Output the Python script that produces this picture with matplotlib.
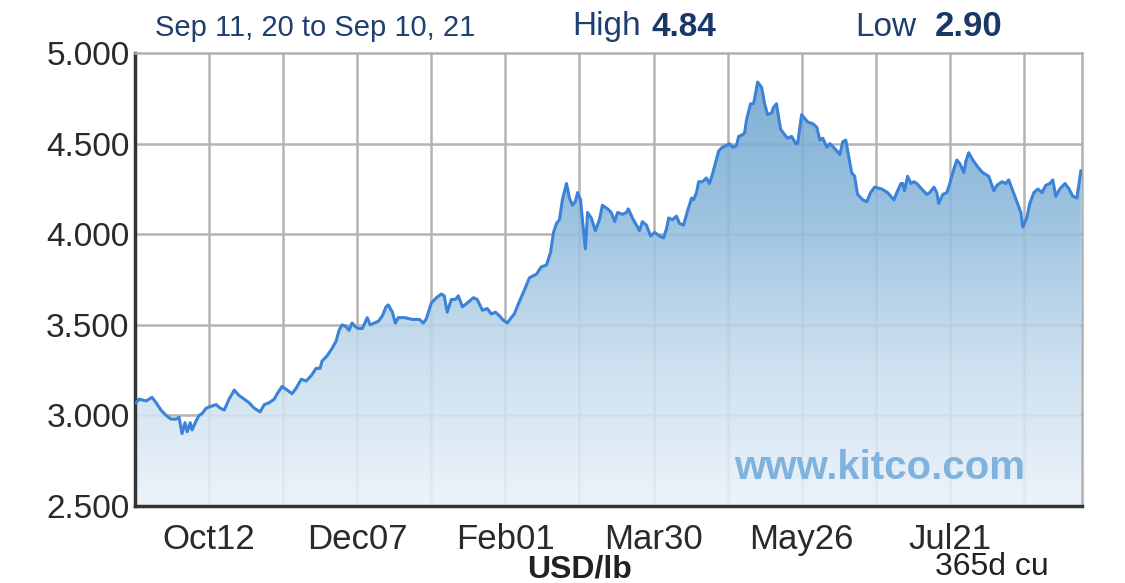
import numpy as np
import matplotlib
matplotlib.use("Agg")
import matplotlib.pyplot as plt
from matplotlib.colors import LinearSegmentedColormap

# Copper price, USD/lb, one year of trading days (x = trading day from Sep 11, 20)
day = [0.3, 1.1, 3.0, 4.6, 5.7, 7.0, 8.4, 9.7, 11.1, 11.9, 12.7, 13.5, 14.1, 14.9, 15.4,
       16.5, 17.3, 18.1, 19.2, 20.5, 21.9, 23.0, 24.1, 25.4, 26.8, 28.1, 29.5, 30.8, 32.2,
       33.8, 34.9, 36.2, 37.6, 38.4, 39.7, 41.1, 42.4, 43.5, 44.9, 46.2, 47.6, 48.9, 50.0,
       50.5, 51.9, 53.2, 54.3, 55.1, 55.9, 57.0, 57.8, 58.6, 59.5, 60.3, 61.4, 62.7, 63.5,
       64.6, 65.7, 66.8, 67.8, 68.4, 69.5, 70.3, 71.1, 72.7, 74.9, 76.8, 77.8, 78.6, 80.0,
       81.4, 82.7, 83.5, 84.3, 85.4, 86.5, 87.3, 88.4, 89.7, 91.4, 92.4, 93.8, 95.1, 96.2,
       97.3, 98.4, 99.2, 100.5, 101.6, 102.4, 103.8, 105.1, 106.5, 108.4, 109.7, 111.1,
       112.2, 113.0, 113.8, 114.6, 115.4, 116.5, 117.3, 118.1, 118.9, 119.5, 120.3, 120.8,
       121.6, 122.2, 123.2, 124.3, 125.4, 126.2, 127.6, 128.6, 129.5, 130.3, 131.6, 132.7,
       133.2, 134.3, 135.4, 136.2, 137.0, 138.1, 139.2, 140.3, 141.6, 142.7, 143.5, 144.1,
       145.1, 146.2, 147.0, 148.1, 149.2, 150.3, 150.8, 151.6, 152.2, 153.2, 154.3, 155.1,
       155.9, 156.8, 157.6, 158.6, 159.7, 160.5, 161.4, 162.4, 163.0, 164.1, 164.6, 165.1,
       166.2, 167.0, 167.6, 168.1, 169.2, 170.0, 170.8, 171.9, 172.4, 173.2, 174.3, 175.4,
       176.2, 177.3, 178.4, 178.9, 180.0, 180.8, 181.6, 183.0, 184.1, 184.9, 185.7, 186.8,
       187.6, 188.6, 189.5, 190.3, 191.1, 191.9, 192.7, 193.5, 194.3, 195.1, 196.5, 197.6,
       198.6, 199.7, 201.6, 203.2, 204.9, 205.7, 206.8, 207.3, 207.8, 208.6, 209.5, 210.3,
       211.1, 212.4, 213.8, 214.6, 215.7, 216.5, 217.0, 218.1, 219.2, 220.0, 221.1, 221.9,
       222.7, 223.8, 224.3, 225.1, 226.2, 227.6, 228.9, 230.5, 231.9, 232.7, 234.1, 235.1,
       235.9, 237.0, 238.1, 239.2, 239.7, 240.8, 241.6, 242.7, 243.8, 244.9, 245.9, 247.0,
       247.8, 248.6, 249.7, 251.1, 252.2, 253.2, 254.3, 254.9, 255.4]
price = [3.07, 3.09, 3.08, 3.10, 3.07, 3.03, 3.00, 2.98, 2.98, 2.99, 2.90, 2.96, 2.91, 2.96, 2.92,
         2.97, 3.00, 3.01, 3.04, 3.05, 3.06, 3.04, 3.03, 3.09, 3.14, 3.11, 3.09, 3.07, 3.04,
         3.02, 3.06, 3.07, 3.09, 3.12, 3.16, 3.14, 3.12, 3.15, 3.20, 3.19, 3.22, 3.26, 3.26,
         3.30, 3.33, 3.37, 3.41, 3.47, 3.50, 3.49, 3.47, 3.51, 3.49, 3.48, 3.48, 3.54, 3.50,
         3.51, 3.52, 3.55, 3.60, 3.61, 3.57, 3.51, 3.54, 3.54, 3.53, 3.53, 3.51, 3.53, 3.62,
         3.65, 3.67, 3.66, 3.57, 3.64, 3.64, 3.66, 3.60, 3.62, 3.65, 3.64, 3.58, 3.59, 3.56,
         3.57, 3.55, 3.53, 3.51, 3.54, 3.56, 3.63, 3.69, 3.76, 3.78, 3.82, 3.83,
         3.90, 4.01, 4.06, 4.08, 4.19, 4.28, 4.20, 4.16, 4.18, 4.23, 4.19, 4.08,
         3.92, 4.12, 4.09, 4.02, 4.08, 4.16, 4.14, 4.12, 4.07, 4.12, 4.11, 4.12,
         4.14, 4.09, 4.05, 4.02, 4.07, 4.05, 3.99, 4.01, 3.99, 3.98, 4.03, 4.09,
         4.08, 4.10, 4.06, 4.05, 4.13, 4.20, 4.19, 4.23, 4.29, 4.29, 4.31, 4.28,
         4.33, 4.40, 4.46, 4.48, 4.49, 4.50, 4.48, 4.49, 4.54, 4.55, 4.56, 4.63,
         4.72, 4.72, 4.78, 4.84, 4.81, 4.72, 4.66, 4.67, 4.70, 4.72, 4.58, 4.55,
         4.53, 4.54, 4.50, 4.50, 4.66, 4.64, 4.62, 4.61, 4.59, 4.52, 4.53, 4.48,
         4.50, 4.48, 4.46, 4.44, 4.51, 4.52, 4.43, 4.34, 4.32, 4.22, 4.19, 4.18,
         4.23, 4.26, 4.25, 4.23, 4.19, 4.23, 4.28, 4.28, 4.24, 4.32, 4.28, 4.29,
         4.28, 4.25, 4.22, 4.23, 4.26, 4.23, 4.17, 4.22, 4.23, 4.28, 4.36, 4.41,
         4.39, 4.34, 4.40, 4.45, 4.41, 4.37, 4.34, 4.32, 4.24, 4.27, 4.29, 4.28,
         4.30, 4.24, 4.18, 4.12, 4.04, 4.09, 4.17, 4.23, 4.25, 4.23, 4.27, 4.28,
         4.30, 4.21, 4.25, 4.28, 4.25, 4.21, 4.20, 4.28, 4.35]

tick_pos = [20, 40, 60, 80, 100, 120, 140, 160, 180, 200, 220, 240]
tick_labels = ['Oct12', '', 'Dec07', '', 'Feb01', '', 'Mar30', '', 'May26', '', 'Jul21', '']
y_ticks = [2.5, 3.0, 3.5, 4.0, 4.5, 5.0]
y_labels = ['2.500', '3.000', '3.500', '4.000', '4.500', '5.000']

plt.rcParams['font.family'] = ['Liberation Sans', 'DejaVu Sans']

fig = plt.figure(figsize=(11.25, 5.83), dpi=100)
ax = fig.add_axes([0.12, 0.132, 0.8418, 0.777])

x_max = 255.7
ax.set_xlim(0, x_max)
ax.set_ylim(2.5, 5.0)

# grid behind the fill so it shows through faintly
for x in tick_pos:
    ax.axvline(x, color='#b4b4b4', lw=1.8, zorder=0.5)
for y in y_ticks[1:-1]:
    ax.axhline(y, color='#b4b4b4', lw=1.8, zorder=0.5)

# gradient area under the line
cmap = LinearSegmentedColormap.from_list('kitco', ['#eaf2fa', '#c6dcee', '#8fbbdc', '#6ca4ce'])
grad = np.linspace(0, 1, 256).reshape(-1, 1)
im = ax.imshow(grad, extent=[0, x_max, 2.5, 4.9], origin='lower', aspect='auto',
               cmap=cmap, alpha=0.88, zorder=1)
poly = ax.fill_between(day, price, 2.5, facecolor='none', edgecolor='none')
im.set_clip_path(poly.get_paths()[0], transform=ax.transData)
ax.set_ylim(2.5, 5.0)

ax.plot(day, price, color='#3b82d9', lw=2.2, zorder=3)

ax.set_xticks(tick_pos)
ax.set_xticklabels(tick_labels, fontsize=25, color='#2a2a2a')
ax.set_yticks(y_ticks)
ax.set_yticklabels(y_labels, fontsize=24, color='#2a2a2a')
ax.tick_params(axis='both', length=0)
ax.tick_params(axis='x', pad=12)
ax.tick_params(axis='y', pad=4)
for lbl in ax.get_yticklabels():
    lbl.set_verticalalignment('center_baseline')

for side in ['top', 'right']:
    ax.spines[side].set_color('#b0b0b0')
    ax.spines[side].set_linewidth(1.8)
for side in ['left', 'bottom']:
    ax.spines[side].set_color('#333333')
    ax.spines[side].set_linewidth(2.5)

ax.text(0.94, 0.085, 'www.kitco.com', transform=ax.transAxes, ha='right', va='center',
        fontsize=29, fontweight='bold', color='#7fb3dd', zorder=4)

# header
navy = '#1f3f6e'
fig.text(155 / 1125, 1 - 28 / 583, 'Sep 11, 20 to Sep 10, 21', fontsize=21, color=navy,
         ha='left', va='center')
fig.text(572 / 1125, 1 - 27 / 583, 'High', fontsize=24, color=navy, ha='left', va='center')
fig.text(652 / 1125, 1 - 27 / 583, '4.84', fontsize=24, fontweight='bold', color='#1a3866',
         ha='left', va='center')
fig.text(855 / 1125, 1 - 27 / 583, 'Low', fontsize=24, color=navy, ha='left', va='center')
fig.text(935 / 1125, 1 - 27 / 583, '2.90', fontsize=25, fontweight='bold', color='#1a3866',
         ha='left', va='center')

# footer
fig.text(580 / 1125, 1 - 569 / 583, 'USD/lb', fontsize=23, fontweight='bold', color='#222222',
         ha='center', va='center')
fig.text(935 / 1125, 1 - 567 / 583, '365d cu', fontsize=23, color='#222222',
         ha='left', va='center')

fig.savefig('out.png', dpi=100)
